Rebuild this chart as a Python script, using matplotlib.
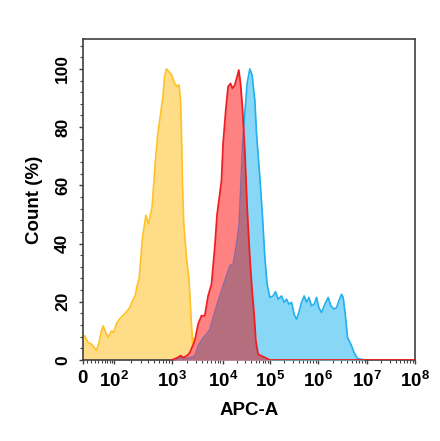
import numpy as np
import matplotlib
matplotlib.use("Agg")
import matplotlib.pyplot as plt

plt.rcParams['font.family'] = ['Liberation Sans', 'DejaVu Sans']
plt.rcParams['font.weight'] = 'bold'
plt.rcParams['mathtext.fontset'] = 'custom'
plt.rcParams['mathtext.rm'] = 'Liberation Sans:bold'
plt.rcParams['mathtext.bf'] = 'Liberation Sans:bold'

# histogram traces: APC-A intensity vs count (% of mode)
orange_x = [0, 4.7, 12.5, 21, 29, 34, 42, 49, 55, 65, 74, 89, 100, 111, 127, 145,
            165, 194, 215, 239, 263, 281, 320, 366, 406, 465, 530, 581, 638, 708,
            757, 810, 897, 988, 1145, 1270, 1390, 1483, 1549, 1622, 1718, 1941,
            2183, 2432, 2560, 2640, 2825, 3090, 3540, 5559, 10000, 1e8]
orange_y = [8.3, 8.3, 6, 5.4, 4.2, 3.3, 6, 10, 11.7, 9.4, 7.7, 10, 9.4, 12.3, 14,
            15.2, 16.3, 18, 20.3, 22, 26, 28, 42, 49.7, 46.8, 52.5, 68.6, 77.8,
            83.6, 90.4, 97.3, 100, 99, 98, 95, 94, 94.5, 89.3, 77.8, 60.6, 46.9,
            35.3, 27.2, 12.3, 6, 7.5, 3, 0.5, 0.3, 0.2, 0, 0]

red_x = [1000, 1300, 1500, 1667, 2000, 2254, 2825, 3280, 3821, 4436, 5152, 5998,
         6966, 7727, 8730, 9435, 10150, 11580, 12970, 14590, 16080, 17990, 20140,
         21880, 23820, 26240, 29380, 32890, 37520, 41990, 46340, 50350, 56360,
         66530, 82200, 100000, 1e8]
red_y = [0, 0.8, 1.5, 0.8, 1.5, 2.5, 6.6, 12.3, 15.2, 15.2, 22, 26, 38.7, 50, 57,
         61.7, 74.4, 85.9, 93.9, 95, 93.3, 94.5, 97.3, 99.6, 95, 86.4, 72, 52.5,
         35.3, 23.8, 15.7, 6.6, 2, 1.4, 0.7, 0, 0]

blue_x = [1200, 1500, 2000, 2825, 3280, 4111, 4786, 5559, 6457, 7727, 9435, 11580,
          14090, 16560, 19560, 22230, 23820, 26240, 29380, 32890, 37520, 41990,
          47970, 52120, 61240, 69980, 78340, 87700, 100000, 117200, 131400, 148900,
          175400, 198600, 222800, 248700, 283400, 320800, 359800, 401800, 457100,
          518800, 582100, 650100, 739100, 837500, 939700, 1048000, 1191000,
          1389000, 1623000, 1841000, 2151000, 2408000, 2683000, 3047000, 3284000,
          3675000, 4036000, 4713000, 5508000, 6457000, 9100000, 1e8]
blue_y = [0, 1.2, 0.5, 1.4, 4.8, 7.7, 8.8, 10.6, 14.6, 19.2, 23.8, 28.4, 32.4, 33,
          39.9, 46.8, 58.3, 74.4, 84.7, 95, 100, 97.9, 89.3, 77.8, 62.9, 49, 35.3,
          26, 21.5, 22, 23.5, 20.9, 22, 19.8, 20.9, 19.2, 19.8, 15.7, 14, 16.3,
          19.8, 22, 19.8, 21.5, 18.6, 19.2, 21.5, 18, 16.3, 19.2, 21.5, 18.6, 17.5,
          18, 20.3, 22.6, 21.5, 14.6, 7.7, 5.4, 2.5, 0.5, 0, 0]

tick_vals = [0, 1e2, 1e3, 1e4, 1e5, 1e6, 1e7, 1e8]
tick_labels = ['0', r'$10^{2}$', r'$10^{3}$', r'$10^{4}$', r'$10^{5}$',
               r'$10^{6}$', r'$10^{7}$', r'$10^{8}$']

# biexponential-like display scale (anchor decades -> display units)
anchor_pos = np.array([83, 114, 172, 223, 270, 318, 367, 415], dtype=float)
anchor_asinh = np.arcsinh(np.array(tick_vals) / 50.0)

def fwd(x):
    return np.interp(np.arcsinh(np.asarray(x, dtype=float) / 50.0), anchor_asinh, anchor_pos)

def inv(p):
    return 50.0 * np.sinh(np.interp(np.asarray(p, dtype=float), anchor_pos, anchor_asinh))

fig = plt.figure(figsize=(4.4, 4.41), dpi=100)
ax = fig.add_axes([0.188, 0.1837, 0.755, 0.728])
ax.set_xscale('function', functions=(fwd, inv))

orange_edge, orange_fill = '#FFC125', '#FFDD88'
blue_edge, blue_fill = '#22B0EE', '#88D7F7'
red_edge, red_fill = '#F01E23', '#FF8282'
mix_fill = '#B56E7E'

ax.fill_between(orange_x, orange_y, 0, color=orange_fill, lw=0, zorder=1)
ax.plot(orange_x, orange_y, color=orange_edge, lw=1.2, zorder=2)

ax.fill_between(blue_x, blue_y, 0, color=blue_fill, lw=0, zorder=3)
ax.plot(blue_x, blue_y, color=blue_edge, lw=1.2, zorder=4)

red_patch = ax.fill_between(red_x, red_y, 0, color=red_fill, lw=0, zorder=5)
# overlap of red and blue drawn darker (multiply-like blend)
mix = ax.fill_between(blue_x, blue_y, 0, color=mix_fill, lw=0, zorder=6)
mix.set_clip_path(red_patch.get_paths()[0], red_patch.get_transform())
mix_line, = ax.plot(blue_x, blue_y, color='#8A6A9E', lw=1.0, zorder=7)
mix_line.set_clip_path(red_patch.get_paths()[0], red_patch.get_transform())
ax.plot(red_x, red_y, color=red_edge, lw=1.3, zorder=8)

ax.set_xlim(0, 1e8)
ax.set_ylim(0, 110.3)

ax.set_xticks(tick_vals)
ax.set_xticklabels(tick_labels, fontsize=13.5)
minor = [k * 10.0 ** n for n in range(2, 8) for k in range(2, 10)]
minor += [10, 20, 30, 40, 50, 60, 70, 80, 90]
ax.set_xticks(minor, minor=True)

ax.set_yticks(range(0, 101, 20))
ax.set_yticks(range(0, 109, 4), minor=True)
ax.set_yticklabels([str(v) for v in range(0, 101, 20)], fontsize=12.5,
                   rotation=90, va='center')

ax.tick_params(axis='both', which='major', direction='out', length=3, width=1,
               color='#404040', pad=6)
ax.tick_params(axis='both', which='minor', direction='out', length=2, width=0.8,
               color='#404040')
ax.tick_params(axis='x', which='major', pad=4)

for s in ax.spines.values():
    s.set_color('#404040')
    s.set_linewidth(1.2)

ax.set_xlabel('APC-A', fontsize=13.5, fontweight='bold', labelpad=8)
ax.set_ylabel('Count (%)', fontsize=13.5, fontweight='bold', labelpad=9)

fig.savefig('out.png', dpi=100)
